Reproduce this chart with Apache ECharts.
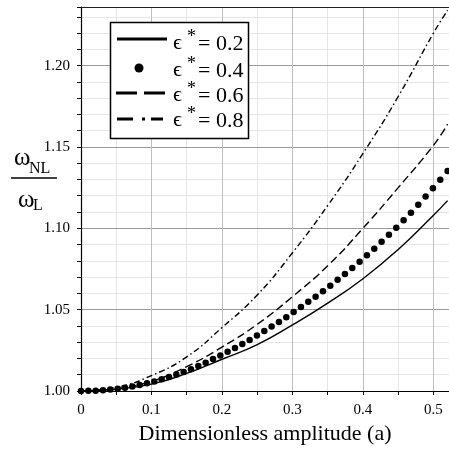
<!DOCTYPE html>
<html>
<head>
<meta charset="utf-8">
<script src="https://cdn.jsdelivr.net/npm/echarts@6/dist/echarts.min.js"></script>
<style>
  html, body { margin: 0; padding: 0; background: #fff; }
  #main { width: 449px; height: 453px; }
</style>
</head>
<body>
<div id="main"></div>
<script>
// x positions shared by the three line curves
var ampLine = [0, 0.05, 0.1, 0.15, 0.2, 0.25, 0.3, 0.35, 0.4, 0.45, 0.5, 0.52];
var eps02 = [1.0, 1.0011, 1.0042, 1.0108, 1.0195, 1.0285, 1.0406, 1.054, 1.069, 1.087, 1.108, 1.117];
var eps06 = [1.0, 1.0015, 1.006, 1.015, 1.027, 1.041, 1.058, 1.077, 1.100, 1.125, 1.151, 1.164];
var eps08 = [1.0, 1.0022, 1.0095, 1.021, 1.039, 1.059, 1.085, 1.114, 1.146, 1.181, 1.220, 1.234];

// dotted curve (eps = 0.4), one dot every 0.0104
var ampDots = [0, 0.0104, 0.0208, 0.0312, 0.0416, 0.052, 0.0624, 0.0728, 0.0832, 0.0936,
  0.104, 0.1144, 0.1248, 0.1352, 0.1456, 0.156, 0.1664, 0.1768, 0.1872, 0.1976,
  0.208, 0.2184, 0.2288, 0.2392, 0.2496, 0.26, 0.2704, 0.2808, 0.2912, 0.3016,
  0.312, 0.3224, 0.3328, 0.3432, 0.3536, 0.364, 0.3744, 0.3848, 0.3952, 0.4056,
  0.416, 0.4264, 0.4368, 0.4472, 0.4576, 0.468, 0.4784, 0.4888, 0.4992, 0.5096, 0.52];
var eps04 = [1.0, 1.0001, 1.0002, 1.0005, 1.0009, 1.0014, 1.0020, 1.0028, 1.0037, 1.0047,
  1.0059, 1.0072, 1.0086, 1.0101, 1.0117, 1.0134, 1.0153, 1.0174, 1.0196, 1.0218,
  1.0241, 1.0265, 1.0289, 1.0314, 1.0341, 1.0368, 1.0396, 1.0424, 1.0454, 1.0485,
  1.0517, 1.0548, 1.0580, 1.0613, 1.0647, 1.0683, 1.0719, 1.0756, 1.0795, 1.0835,
  1.0875, 1.0918, 1.0960, 1.1004, 1.1049, 1.1095, 1.1144, 1.1195, 1.1246, 1.1299, 1.1352];

var legendLabels = ['= 0.2', '= 0.4', '= 0.6', '= 0.8'];

var serif = "'Liberation Serif', 'Times New Roman', 'DejaVu Serif', serif";

function pairs(xs, ys) {
  return xs.map(function (x, i) { return [x, ys[i]]; });
}

var myChart = echarts.init(document.getElementById('main'));

// legend drawn by hand (box, samples, texts)
var legendRows = [44, 71, 96, 121];
var graphics = [
  { type: 'line', z: 10, shape: { x1: 81, y1: 7.5, x2: 449, y2: 7.5 }, style: { stroke: '#222', lineWidth: 1.2 } },
  { type: 'rect', z: 10, shape: { x: 110.5, y: 22.5, width: 138, height: 116 },
    style: { fill: '#fff', stroke: '#000', lineWidth: 1.5 } },
  { type: 'line', z: 11, shape: { x1: 117, y1: 39, x2: 167, y2: 39 }, style: { stroke: '#000', lineWidth: 3 } },
  { type: 'circle', z: 11, shape: { cx: 139, cy: 68, r: 4.5 }, style: { fill: '#000' } },
  { type: 'line', z: 11, shape: { x1: 116, y1: 93, x2: 166, y2: 93 }, style: { stroke: '#000', lineWidth: 3, lineDash: [21, 7] } },
  { type: 'line', z: 11, shape: { x1: 117, y1: 119, x2: 163, y2: 119 }, style: { stroke: '#000', lineWidth: 3, lineDash: [16, 9, 3, 6] } },
  // y axis name: omega_NL / omega_L
  { type: 'text', z: 10, style: { text: 'ω', x: 14, y: 158, font: '25px ' + serif, fill: '#000', textVerticalAlign: 'middle' } },
  { type: 'text', z: 10, style: { text: 'NL', x: 29, y: 169, font: '16px ' + serif, fill: '#000', textVerticalAlign: 'middle' } },
  { type: 'line', z: 10, shape: { x1: 11, y1: 178, x2: 57, y2: 178 }, style: { stroke: '#000', lineWidth: 1.5 } },
  { type: 'text', z: 10, style: { text: 'ω', x: 18, y: 200, font: '25px ' + serif, fill: '#000', textVerticalAlign: 'middle' } },
  { type: 'text', z: 10, style: { text: 'L', x: 33, y: 206, font: '16px ' + serif, fill: '#000', textVerticalAlign: 'middle' } }
];
legendRows.forEach(function (y, i) {
  graphics.push({ type: 'text', z: 11, style: { text: 'ϵ', x: 173, y: y - 1, font: '22px ' + serif, fill: '#000', textVerticalAlign: 'middle' } });
  graphics.push({ type: 'text', z: 11, style: { text: '*', x: 187, y: y - 7, font: '18px ' + serif, fill: '#000', textVerticalAlign: 'middle' } });
  graphics.push({ type: 'text', z: 11, style: { text: legendLabels[i], x: 198, y: y, font: '22px ' + serif, fill: '#000', textVerticalAlign: 'middle' } });
});

var option = {
  animation: false,
  backgroundColor: '#fff',
  grid: { left: 81, right: 0, top: 7, bottom: 62 },
  xAxis: [{
    type: 'value', min: 0, max: 0.522, interval: 0.1, z: 2,
    name: 'Dimensionless amplitude (a)', nameLocation: 'middle', nameGap: 32,
    nameTextStyle: { fontFamily: serif, fontSize: 22, color: '#000' },
    axisLine: { show: true, lineStyle: { color: '#000', width: 1.2 } },
    axisTick: { show: true, length: 4, lineStyle: { color: '#000' } },
    axisLabel: { fontFamily: serif, fontSize: 15, color: '#000', margin: 12, showMaxLabel: false,
      formatter: function (v) { return v === 0 ? '0' : v.toFixed(1); } },
    splitLine: { show: true, showMaxLine: false, lineStyle: { color: '#bdbdbd', width: 1 } }
  }, {
    type: 'value', min: 0, max: 0.522, interval: 0.05, z: 1, position: 'bottom',
    axisLine: { show: false },
    axisTick: { show: true, length: 4, lineStyle: { color: '#000' } },
    axisLabel: { show: false },
    splitLine: { show: true, showMaxLine: false, lineStyle: { color: '#e6e6e6', width: 1 } }
  }],
  yAxis: [{
    type: 'value', min: 1.0, max: 1.236, interval: 0.05, z: 2,
    axisLine: { show: true, lineStyle: { color: '#000', width: 1.2 } },
    axisTick: { show: true, length: 4, lineStyle: { color: '#000' } },
    axisLabel: { fontFamily: serif, fontSize: 15, color: '#000', margin: 11, showMaxLabel: false,
      formatter: function (v) { return v.toFixed(2); } },
    splitLine: { show: true, showMaxLine: false, lineStyle: { color: '#999', width: 1 } }
  }, {
    type: 'value', min: 1.0, max: 1.236, interval: 0.01, z: 1, position: 'left',
    axisLine: { show: false },
    axisTick: { show: true, length: 4, lineStyle: { color: '#000' } },
    axisLabel: { show: false },
    splitLine: { show: true, showMaxLine: false, lineStyle: { color: '#e6e6e6', width: 1 } }
  }],
  series: [{
    name: 'eps 0.2', type: 'line', smooth: true, showSymbol: false,
    lineStyle: { color: '#000', width: 1.4 },
    data: pairs(ampLine, eps02)
  }, {
    name: 'eps 0.4', type: 'scatter', symbolSize: 6.5,
    itemStyle: { color: '#000', opacity: 1 },
    data: pairs(ampDots, eps04)
  }, {
    name: 'eps 0.6', type: 'line', smooth: true, showSymbol: false,
    lineStyle: { color: '#000', width: 1.4, type: [8, 4] },
    data: pairs(ampLine, eps06)
  }, {
    name: 'eps 0.8', type: 'line', smooth: true, showSymbol: false,
    lineStyle: { color: '#000', width: 1.4, type: [6, 3, 1.5, 3] },
    data: pairs(ampLine, eps08)
  }],
  graphic: graphics
};

myChart.setOption(option);
</script>
</body>
</html>
